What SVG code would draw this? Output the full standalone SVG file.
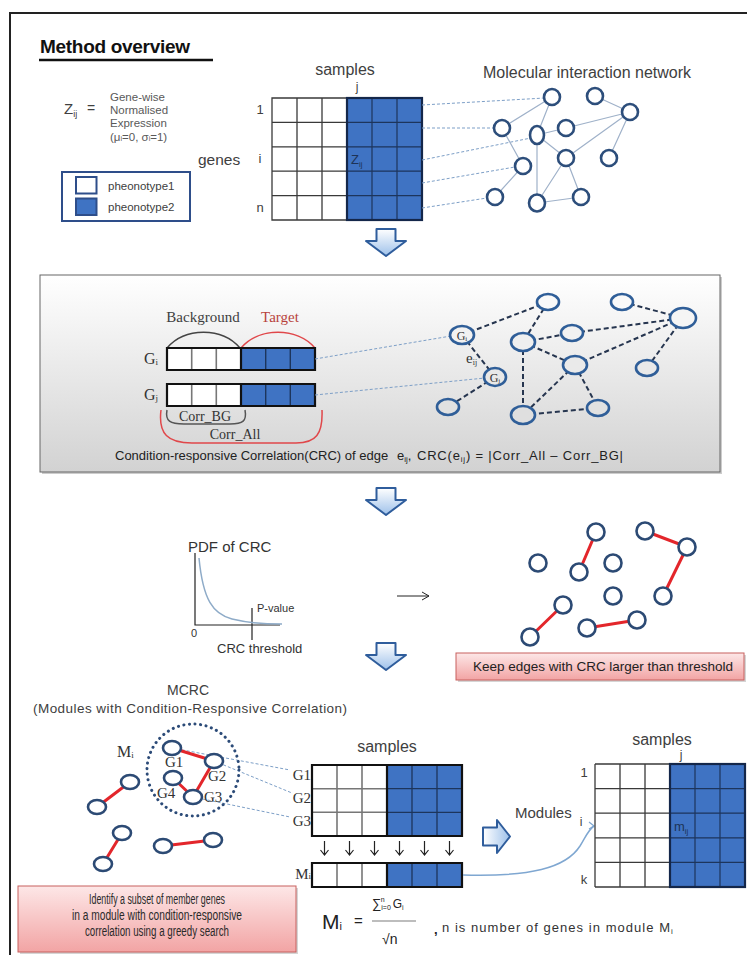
<svg xmlns="http://www.w3.org/2000/svg" width="747" height="955" viewBox="0 0 747 955">
<defs>
<style>
text{font-family:"Liberation Sans","DejaVu Sans",sans-serif;}
.serif,.serif text{font-family:"Liberation Serif","DejaVu Serif",serif;}
.lbl{fill:#404040;}
.wgrid{stroke:#3a3a3a;stroke-width:1.3;fill:none;}
.bgrid{stroke:#1d355c;stroke-width:1.2;fill:none;}
.blue{fill:#3f73c3;}
.nd1{fill:#fff;stroke:#2d4e7b;stroke-width:2.6;}
.e1{stroke:#9fb1c9;stroke-width:1.2;fill:none;}
.link{stroke:#7d9fc7;stroke-width:1;stroke-dasharray:3 2;fill:none;}
.nd2{stroke:#2f5e98;stroke-width:2.6;}
.e2{stroke:#26354f;stroke-width:2;stroke-dasharray:5 3;fill:none;}
.nd3{fill:#fff;stroke:#2c4a74;stroke-width:2.6;}
.red{stroke:#e3262b;stroke-width:3;fill:none;}
.blk{fill:url(#arrowFill);stroke:#2f5d9c;stroke-width:2;stroke-linejoin:round;}
.thin{stroke:#222;stroke-width:1.2;fill:none;}
</style>
<linearGradient id="panelFill" x1="0" y1="0" x2="0" y2="1"><stop offset="0" stop-color="#ffffff"/><stop offset="1" stop-color="#d2d2d2"/></linearGradient>
<linearGradient id="arrowFill" x1="0" y1="0" x2="0" y2="1"><stop offset="0" stop-color="#ffffff"/><stop offset="1" stop-color="#9ec1ea"/></linearGradient>
<linearGradient id="arrowFillH" x1="0" y1="0" x2="1" y2="0"><stop offset="0" stop-color="#ffffff"/><stop offset="1" stop-color="#9ec1ea"/></linearGradient>
<linearGradient id="pinkFill" x1="0" y1="0" x2="0" y2="1"><stop offset="0" stop-color="#fde7e7"/><stop offset="1" stop-color="#f2a4a4"/></linearGradient>
</defs>

<!-- outer frame -->
<path d="M10,955 V13 H747" stroke="#222" stroke-width="2" fill="none"/>

<!-- title -->
<g id="title">
<text x="40" y="53" font-size="19" font-weight="bold" fill="#111" letter-spacing="-0.3">Method overview</text>
<line x1="39" y1="60" x2="213" y2="60" stroke="#111" stroke-width="2.5"/>
</g>

<!-- expression definition -->
<g id="zdef">
<text x="64" y="114" font-size="15" class="lbl">Z<tspan font-size="9" dy="3">ij</tspan></text>
<text x="87" y="113" font-size="14" class="lbl">=</text>
<g font-size="11.5" fill="#595959">
<text x="110" y="100.5">Gene-wise</text>
<text x="110" y="114">Normalised</text>
<text x="110" y="127.3">Expression</text>
<text x="110" y="140.6">(μ<tspan font-size="7">i</tspan>=0, σ<tspan font-size="7">i</tspan>=1)</text>
</g>
</g>

<!-- legend -->
<g id="legend">
<rect x="62" y="172" width="128" height="49" fill="#fff" stroke="#2e4e8a" stroke-width="2"/>
<rect x="76" y="177" width="20.5" height="16.5" fill="#fff" stroke="#2e4e8a" stroke-width="2"/>
<rect x="76" y="198.5" width="20.5" height="16.5" fill="#3f73c3" stroke="#2e4e8a" stroke-width="2"/>
<text x="108" y="189.5" font-size="11.5" class="lbl">pheonotype1</text>
<text x="108" y="210.5" font-size="11.5" class="lbl">pheonotype2</text>
</g>

<!-- expression matrix -->
<g id="matrix1">
<text x="345" y="75" font-size="16" text-anchor="middle" class="lbl">samples</text>
<text x="357" y="91" font-size="12" text-anchor="middle" class="lbl">j</text>
<text x="198" y="165" font-size="15.5" class="lbl">genes</text>
<text x="260" y="114" font-size="13" text-anchor="middle" class="lbl">1</text>
<text x="260" y="163" font-size="13" text-anchor="middle" class="lbl">i</text>
<text x="260" y="212" font-size="13" text-anchor="middle" class="lbl">n</text>
<rect x="272" y="98" width="75" height="122" fill="#fff"/>
<rect x="347" y="98" width="75" height="122" class="blue"/>
<path class="wgrid" d="M272,98 H347 V220 H272 Z M297,98 V220 M322,98 V220 M272,122.4 H347 M272,146.8 H347 M272,171.2 H347 M272,195.6 H347"/>
<path class="bgrid" d="M372,98 V220 M397,98 V220 M347,122.4 H422 M347,146.8 H422 M347,171.2 H422 M347,195.6 H422"/>
<rect x="347" y="98" width="75" height="122" fill="none" stroke="#14274a" stroke-width="2.2"/>
<text x="351" y="164" font-size="13" fill="#1d3357">Z<tspan font-size="8" dy="3">ij</tspan></text>
</g>

<!-- molecular interaction network -->
<text x="483" y="78" font-size="16" class="lbl">Molecular interaction network</text>
<g id="links1">
<path class="link" d="M422,105 L545,98 M422,128 L494,128 M422,160 L531,138 M422,183 L515,167 M422,208 L487,198"/>
<path class="e1" d="M552,97 L502,128 M552,97 L537,135 M595,96 L630,112 M537,135 L566,128 M566,128 L630,112 M630,112 L566,158 M630,112 L609,158 M502,128 L523,166 M523,166 L495,197 M537,135 L566,158 M537,135 L537,203 M566,158 L537,203 M566,158 L581,197 M537,203 L581,197"/>
</g>
<g id="net1">
<circle class="nd1" cx="552" cy="97" r="8"/>
<circle class="nd1" cx="595" cy="96" r="8"/>
<circle class="nd1" cx="630" cy="112" r="8"/>
<circle class="nd1" cx="502" cy="128" r="8"/>
<ellipse class="nd1" cx="537" cy="135" rx="7" ry="9"/>
<circle class="nd1" cx="566" cy="128" r="8"/>
<circle class="nd1" cx="523" cy="166" r="8"/>
<circle class="nd1" cx="566" cy="158" r="8"/>
<circle class="nd1" cx="609" cy="158" r="8"/>
<circle class="nd1" cx="495" cy="197" r="8"/>
<ellipse class="nd1" cx="537" cy="203" rx="8" ry="8.5"/>
<circle class="nd1" cx="581" cy="197" r="8"/>
</g>

<!-- step arrows -->
<g id="arrows">
<path class="blk" d="M376.5,229 H395.5 V241 H406 L386,256 L366,241 H376.5 Z"/>
<path class="blk" d="M376.5,488 H395.5 V500 H406 L386,515 L366,500 H376.5 Z"/>
<path class="blk" d="M376.5,643 H395.5 V655 H406 L386,670 L366,655 H376.5 Z"/>
<path d="M483,827.5 H497 V820 L510,836.5 L497,853 V845.5 H483 Z" fill="url(#arrowFillH)" stroke="#2f5d9c" stroke-width="2" stroke-linejoin="round"/>
</g>

<!-- CRC panel -->
<g id="crcPanel">
<rect x="42" y="277" width="680" height="197" fill="#9a9a9a" opacity="0.5"/>
<rect x="40" y="275" width="680" height="197" fill="url(#panelFill)" stroke="#666" stroke-width="1"/>
<text x="203" y="322" font-size="15" text-anchor="middle" class="serif" fill="#404040">Background</text>
<text x="280" y="322" font-size="15" text-anchor="middle" class="serif" fill="#b8433d">Target</text>
<path d="M167,348 C185,327 222,327 240,348" stroke="#444" stroke-width="1.4" fill="none"/>
<path d="M241,348 C259,327 297,327 315,348" stroke="#e0474a" stroke-width="1.4" fill="none"/>
<text x="158" y="364" font-size="16" text-anchor="end" class="serif" fill="#333">G<tspan font-size="9" dy="1">i</tspan></text>
<text x="158" y="400" font-size="16" text-anchor="end" class="serif" fill="#333">G<tspan font-size="9" dy="1">j</tspan></text>
<rect x="167" y="348" width="74" height="22" fill="#fff"/>
<rect x="167" y="384" width="74" height="22" fill="#fff"/>
<rect x="241" y="348" width="74" height="22" class="blue"/>
<rect x="241" y="384" width="74" height="22" class="blue"/>
<path d="M191.7,348 V370 M216.3,348 V370 M191.7,384 V406 M216.3,384 V406" stroke="#777" stroke-width="1.6"/>
<path d="M265.7,348 V370 M290.3,348 V370 M265.7,384 V406 M290.3,384 V406" stroke="#1d355c" stroke-width="1.4"/>
<path d="M167,348 H315 V370 H167 Z M241,348 V370 M167,384 H315 V406 H167 Z M241,384 V406" stroke="#111" stroke-width="2.2" fill="none"/>
<path d="M167,410 C165,421 170,424 184,424 L230,424 C243,424 247,421 245,410" stroke="#555" stroke-width="1.5" fill="none"/>
<text x="205" y="421" font-size="14" text-anchor="middle" class="serif" fill="#333">Corr_BG</text>
<path d="M161,410 C158,434 168,443 192,443 L296,443 C316,443 323,434 322,410" stroke="#e0474a" stroke-width="1.5" fill="none"/>
<text x="235" y="439" font-size="14" text-anchor="middle" class="serif" fill="#333">Corr_All</text>
<text x="115" y="460" font-size="13" fill="#222">Condition-responsive Correlation(CRC) of edge</text>
<text x="397" y="460" font-size="13" fill="#222">e<tspan font-size="8" dy="2">ij</tspan><tspan dy="-2">,</tspan></text>
<text x="417" y="460" font-size="13" fill="#222" textLength="206" lengthAdjust="spacing">CRC(e<tspan font-size="8" dy="2">ij</tspan><tspan dy="-2">) = |Corr_All – Corr_BG|</tspan></text>
</g>

<g id="links2">
<path class="link" d="M315,359 L451,336 M315,395 L485,378"/>
<path class="e2" d="M462,335 L548,302 M548,302 L523,342 M523,342 L572,333 M572,333 L683,318 M622,302 L683,318 M523,342 L575,365 M575,365 L683,318 M683,318 L647,368 M523,342 L523,415 M575,365 L523,415 M575,365 L598,408 M523,415 L598,408 M462,335 L495,377 M495,377 L448,407"/>
</g>
<g id="net2">
<ellipse class="nd2" fill="#f9f9f9" cx="548" cy="302" rx="11" ry="8"/>
<ellipse class="nd2" fill="#f9f9f9" cx="622" cy="302" rx="11" ry="8"/>
<ellipse class="nd2" fill="#f5f5f5" cx="683" cy="318" rx="13" ry="10"/>
<ellipse class="nd2" fill="#f1f1f1" cx="462" cy="335" rx="12" ry="9"/>
<ellipse class="nd2" fill="#f1f1f1" cx="572" cy="333" rx="11" ry="8"/>
<ellipse class="nd2" fill="#efefef" cx="523" cy="342" rx="12" ry="9"/>
<ellipse class="nd2" fill="#eaeaea" cx="575" cy="365" rx="12" ry="9"/>
<ellipse class="nd2" fill="#e9e9e9" cx="647" cy="368" rx="11" ry="8"/>
<ellipse class="nd2" fill="#e8e8e8" cx="495" cy="377" rx="11" ry="9"/>
<ellipse class="nd2" fill="#e1e1e1" cx="448" cy="407" rx="11" ry="8"/>
<ellipse class="nd2" fill="#dfdfdf" cx="523" cy="415" rx="12" ry="9"/>
<ellipse class="nd2" fill="#e1e1e1" cx="598" cy="408" rx="11" ry="8"/>
<text x="462" y="339.5" font-size="12" text-anchor="middle" class="serif" fill="#333">G<tspan font-size="7" dy="1">i</tspan></text>
<text x="495" y="381.5" font-size="12" text-anchor="middle" class="serif" fill="#333">G<tspan font-size="7" dy="1">j</tspan></text>
<text x="466" y="363" font-size="15" class="serif" fill="#333">e<tspan font-size="8" dy="2">ij</tspan></text>
</g>

<!-- CRC distribution -->
<g id="pdf">
<text x="188" y="552" font-size="15" fill="#333">PDF of CRC</text>
<path class="thin" d="M195,553 V625 H280 M252,608 V640"/>
<path d="M199,558 C203,600 213,614 232,619 C248,623 262,624 282,624" stroke="#8eabc8" stroke-width="1.5" fill="none"/>
<text x="257" y="612" font-size="11" fill="#333">P-value</text>
<text x="194" y="637" font-size="11" fill="#333" text-anchor="middle">0</text>
<text x="217" y="653" font-size="13" fill="#333">CRC threshold</text>
<path d="M397,596 H429 M422,592 L429,596 L422,600" stroke="#222" stroke-width="1" fill="none"/>
</g>

<!-- thresholded network -->
<g id="net3">
<path class="red" d="M596,532 L579,572 M645,531 L687,547 M687,547 L663,596 M563,605 L530,637 M587,628 L637,620"/>
<circle class="nd3" cx="596" cy="532" r="8.5"/>
<circle class="nd3" cx="645" cy="531" r="8.5"/>
<circle class="nd3" cx="687" cy="547" r="8.5"/>
<circle class="nd3" cx="538" cy="563" r="8.5"/>
<circle class="nd3" cx="579" cy="572" r="8.5"/>
<circle class="nd3" cx="613" cy="563" r="8.5"/>
<circle class="nd3" cx="613" cy="596" r="8.5"/>
<circle class="nd3" cx="663" cy="596" r="8.5"/>
<circle class="nd3" cx="563" cy="605" r="8.5"/>
<circle class="nd3" cx="637" cy="620" r="8.5"/>
<circle class="nd3" cx="587" cy="628" r="8.5"/>
<circle class="nd3" cx="530" cy="637" r="8.5"/>
</g>
<g id="keepNote">
<rect x="458" y="655" width="288" height="27" fill="#b9b9b9" opacity="0.6"/>
<rect x="456" y="653" width="288" height="27" fill="url(#pinkFill)" stroke="#c8605e" stroke-width="1"/>
<text x="603" y="671" font-size="13.5" fill="#222" text-anchor="middle" textLength="260" lengthAdjust="spacing">Keep edges  with CRC larger  than  threshold</text>
</g>

<!-- MCRC modules -->
<g id="mcrcTitle">
<text x="188" y="695" font-size="14" text-anchor="middle" class="lbl">MCRC</text>
<text x="33" y="713" font-size="13.5" class="lbl" textLength="314" lengthAdjust="spacing">(Modules with Condition-Responsive Correlation)</text>
</g>
<g id="links4">
<path class="link" d="M172,748 L290,770 M214,761 L292,793 M193,797 L290,817"/>
<path class="red" d="M172,748 L214,761 M214,761 L193,797 M173,778 L193,797 M130,782 L97,807 M122,833 L103,864 M163,846 L213,840"/>
</g>
<g id="modules">
<circle cx="193" cy="770" r="46" fill="none" stroke="#2c4b78" stroke-width="3" stroke-dasharray="0.1 5.5" stroke-linecap="round"/>
<text x="117" y="757" font-size="16" class="serif" fill="#333">M<tspan font-size="9" dy="1">i</tspan></text>
<ellipse class="nd3" cx="172" cy="748" rx="9" ry="7"/>
<ellipse class="nd3" cx="214" cy="761" rx="9" ry="7"/>
<ellipse class="nd3" cx="173" cy="778" rx="9" ry="7"/>
<ellipse class="nd3" cx="193" cy="797" rx="9" ry="7"/>
<ellipse class="nd3" cx="130" cy="782" rx="9" ry="7"/>
<ellipse class="nd3" cx="97" cy="807" rx="9" ry="7"/>
<ellipse class="nd3" cx="122" cy="833" rx="9" ry="7"/>
<ellipse class="nd3" cx="103" cy="864" rx="9" ry="7"/>
<ellipse class="nd3" cx="163" cy="846" rx="9" ry="7"/>
<ellipse class="nd3" cx="213" cy="840" rx="9" ry="7"/>
<g font-size="15" class="serif" fill="#333">
<text x="165" y="767">G1</text>
<text x="208" y="781">G2</text>
<text x="157" y="798">G4</text>
<text x="204" y="802">G3</text>
</g>
</g>

<!-- module member matrix -->
<g id="matrix2">
<text x="387" y="752" font-size="16" text-anchor="middle" class="lbl">samples</text>
<g font-size="15" class="serif" fill="#333" text-anchor="end">
<text x="311" y="780">G1</text>
<text x="311" y="803">G2</text>
<text x="311" y="826">G3</text>
<text x="311" y="879">M<tspan font-size="9">i</tspan></text>
</g>
<rect x="312" y="765" width="75" height="71" fill="#fff"/>
<rect x="387" y="765" width="75" height="71" class="blue"/>
<rect x="312" y="863" width="75" height="24" fill="#fff"/>
<rect x="387" y="863" width="75" height="24" class="blue"/>
<path d="M337,765 V836 M362,765 V836 M312,788.7 H387 M312,812.3 H387 M337,863 V887 M362,863 V887" stroke="#777" stroke-width="1.6"/>
<path d="M412,765 V836 M437,765 V836 M387,788.7 H462 M387,812.3 H462 M412,863 V887 M437,863 V887" stroke="#1d355c" stroke-width="1.3"/>
<path d="M312,765 H462 V836 H312 Z M387,765 V836 M312,863 H462 V887 H312 Z M387,863 V887" stroke="#111" stroke-width="2.2" fill="none"/>
<path d="M324.5,841 V855 M320.5,850 L324.5,855 L328.5,850 M349.5,841 V855 M345.5,850 L349.5,855 L353.5,850 M374.5,841 V855 M370.5,850 L374.5,855 L378.5,850 M399.5,841 V855 M395.5,850 L399.5,855 L403.5,850 M424.5,841 V855 M420.5,850 L424.5,855 L428.5,850 M449.5,841 V855 M445.5,850 L449.5,855 L453.5,850" stroke="#222" stroke-width="1.2" fill="none"/>
</g>

<!-- module summary link -->
<g id="summaryLink">
<path d="M463,875 C530,877 566,868 580,846 C586,836 589,829 594,826" stroke="#7fa7d1" stroke-width="1.5" fill="none"/>
<path d="M589,822 L594,826 L589,829" stroke="#7fa7d1" stroke-width="1.2" fill="none"/>
</g>

<!-- module matrix -->
<g id="matrix3">
<text x="662" y="745" font-size="16" text-anchor="middle" class="lbl">samples</text>
<text x="681" y="759" font-size="12" text-anchor="middle" class="lbl">j</text>
<text x="515" y="818" font-size="15" class="lbl">Modules</text>
<text x="584" y="777" font-size="13" text-anchor="middle" class="lbl">1</text>
<text x="581" y="826" font-size="12" text-anchor="middle" class="lbl">i</text>
<text x="584" y="884" font-size="13" text-anchor="middle" class="lbl">k</text>
<rect x="595" y="764" width="75" height="123" fill="#fff"/>
<rect x="670" y="764" width="75" height="123" class="blue"/>
<path class="wgrid" d="M595,764 H670 M595,887 H670 M595,764 V887 M620,764 V887 M645,764 V887 M595,788.6 H670 M595,813.2 H670 M595,837.8 H670 M595,862.4 H670"/>
<path class="bgrid" d="M695,764 V887 M720,764 V887 M670,788.6 H745 M670,813.2 H745 M670,837.8 H745 M670,862.4 H745"/>
<rect x="670" y="764" width="75" height="123" fill="none" stroke="#14274a" stroke-width="2.2"/>
<text x="674" y="831" font-size="13" fill="#1d3357">m<tspan font-size="8" dy="3">ij</tspan></text>
</g>

<!-- greedy search note -->
<g id="greedyNote">
<rect x="20" y="888" width="278" height="66" fill="#b9b9b9" opacity="0.6"/>
<rect x="18" y="886" width="278" height="66" fill="url(#pinkFill)" stroke="#c8605e" stroke-width="1"/>
<g font-size="14" fill="#2a2a2a" text-anchor="middle">
<text x="157" y="904" textLength="136" lengthAdjust="spacingAndGlyphs">Identify a subset of member genes</text>
<text x="157" y="920" textLength="170" lengthAdjust="spacingAndGlyphs">in a module with condition-responsive</text>
<text x="157" y="936" textLength="144" lengthAdjust="spacingAndGlyphs">correlation using a greedy search</text>
</g>
</g>

<!-- module score formula -->
<g id="formula">
<text x="322" y="929" font-size="21" fill="#222">M<tspan font-size="11" dy="1">i</tspan></text>
<text x="354" y="926" font-size="15" fill="#222">=</text>
<text x="372" y="908" font-size="13" fill="#222">∑<tspan font-size="7" dy="2">i=0</tspan><tspan font-size="7" dx="-10" dy="-8">n</tspan><tspan font-size="12" dx="8" dy="6">G</tspan><tspan font-size="7" dy="2">i</tspan></text>
<line x1="372" y1="921" x2="416" y2="921" stroke="#444" stroke-width="0.7"/>
<text x="382" y="944" font-size="14" fill="#222">√n</text>
<text x="434" y="934" font-size="13" font-weight="bold" fill="#222">,</text>
<text x="442" y="932" font-size="13" fill="#333" textLength="228" lengthAdjust="spacing">n is number of genes in module M</text>
<text x="671" y="934" font-size="8" fill="#333">i</text>
</g>
</svg>
